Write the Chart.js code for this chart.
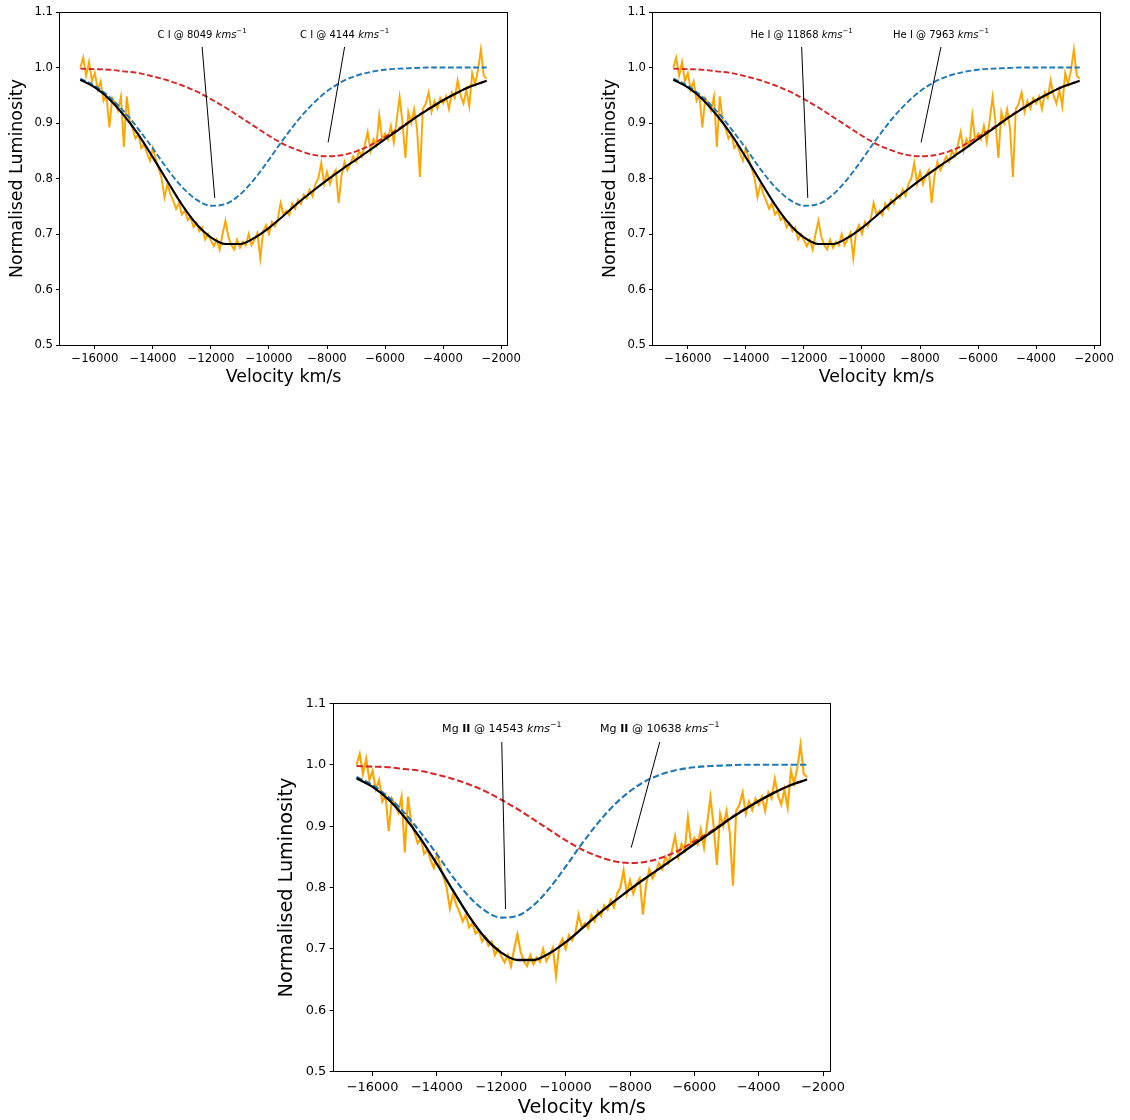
<!DOCTYPE html>
<html>
<head>
<meta charset="utf-8">
<style>
  html, body { margin: 0; padding: 0; background: #fff; }
  body { width: 1130px; height: 1120px; position: relative; overflow: hidden; }
  canvas { position: absolute; }
</style>
</head>
<body>
<canvas id="panelC" width="530" height="400" style="left:0px;top:0px"></canvas>
<canvas id="panelHe" width="530" height="400" style="left:593px;top:0px"></canvas>
<canvas id="panelMg" width="585" height="430" style="left:268px;top:690px"></canvas>
<script src="https://cdn.jsdelivr.net/npm/chart.js@4.4.1/dist/chart.umd.min.js"></script>
<script>
// observed spectrum (velocity km/s, normalised flux)
const specVel = [
  -16500,-16400,-16300,-16200,-16100,-16000,-15900,-15800,-15700,-15600,
  -15500,-15400,-15300,-15200,-15100,-15000,-14900,-14800,-14700,-14600,
  -14500,-14400,-14300,-14200,-14100,-14000,-13900,-13800,-13700,-13600,
  -13500,-13400,-13300,-13200,-13100,-13000,-12900,-12800,-12700,-12600,
  -12500,-12400,-12300,-12200,-12100,-12000,-11900,-11800,-11700,-11600,
  -11500,-11400,-11300,-11200,-11100,-11000,-10900,-10800,-10700,-10600,
  -10500,-10400,-10300,-10200,-10100,-10000,-9900,-9800,-9700,-9600,
  -9500,-9400,-9300,-9200,-9100,-9000,-8900,-8800,-8700,-8600,
  -8500,-8400,-8300,-8200,-8100,-8000,-7900,-7800,-7700,-7600,
  -7500,-7400,-7300,-7200,-7100,-7000,-6900,-6800,-6700,-6600,
  -6500,-6400,-6300,-6200,-6100,-6000,-5900,-5800,-5700,-5600,
  -5500,-5400,-5300,-5200,-5100,-5000,-4900,-4800,-4700,-4600,
  -4500,-4400,-4300,-4200,-4100,-4000,-3900,-3800,-3700,-3600,
  -3500,-3400,-3300,-3200,-3100,-3000,-2900,-2800,-2700,-2600,
  -2500
];
const specLum = [
  1.000,1.018,0.985,1.010,0.975,0.990,0.960,0.975,0.940,0.950,
  0.892,0.945,0.935,0.922,0.948,0.857,0.948,0.905,0.890,0.872,
  0.880,0.855,0.862,0.845,0.832,0.855,0.835,0.818,0.800,0.766,
  0.790,0.772,0.760,0.745,0.756,0.735,0.742,0.725,0.730,0.712,
  0.720,0.705,0.712,0.690,0.700,0.688,0.678,0.690,0.672,0.700,
  0.724,0.695,0.680,0.672,0.690,0.675,0.686,0.679,0.700,0.680,
  0.690,0.702,0.656,0.705,0.716,0.700,0.722,0.714,0.726,0.756,
  0.735,0.742,0.734,0.755,0.745,0.762,0.754,0.771,0.764,0.780,
  0.768,0.790,0.800,0.828,0.790,0.812,0.790,0.806,0.815,0.756,
  0.805,0.830,0.815,0.826,0.840,0.830,0.850,0.840,0.860,0.884,
  0.850,0.871,0.860,0.914,0.870,0.881,0.870,0.895,0.865,0.905,
  0.947,0.900,0.837,0.920,0.900,0.925,0.890,0.803,0.925,0.935,
  0.955,0.920,0.940,0.926,0.945,0.935,0.948,0.925,0.955,0.945,
  0.977,0.950,0.935,0.960,0.930,0.990,0.970,0.995,1.033,0.985,
  0.980
];

// fitted profiles
const fitVel = [
  -16500,-16000,-15500,-15000,-14500,-14000,-13500,-13000,-12500,-12000,
  -11500,-11000,-10500,-10000,-9500,-9000,-8500,-8000,-7500,-7000,
  -6500,-6000,-5500,-5000,-4500,-4000,-3500,-3000,-2500
];
const fastComp = [
  0.980,0.967,0.947,0.921,0.889,0.854,0.817,0.785,0.762,0.751,
  0.754,0.771,0.799,0.834,0.871,0.905,0.934,0.957,0.974,0.985,
  0.992,0.996,0.998,0.999,1.000,1.000,1.000,1.000,1.000
];
const slowComp = [
  0.998,0.997,0.996,0.993,0.990,0.984,0.977,0.968,0.957,0.943,
  0.928,0.911,0.894,0.877,0.862,0.851,0.843,0.840,0.842,0.849,
  0.860,0.875,0.891,0.909,0.926,0.941,0.955,0.967,0.976
];
const totalFit = [
  0.978,0.964,0.943,0.914,0.879,0.838,0.795,0.753,0.718,0.694,
  0.682,0.682,0.693,0.711,0.733,0.756,0.777,0.797,0.816,0.834,
  0.852,0.871,0.889,0.908,0.925,0.941,0.955,0.967,0.976
];

// axis ticks
const velTicks = [-16000, -14000, -12000, -10000, -8000, -6000, -4000, -2000];
const lumTicks = [0.5, 0.6, 0.7, 0.8, 0.9, 1.0, 1.1];

// line identifications per panel
const ions = ['C I', 'He I', 'Mg II'];
const fastShift = [8049, 11868, 14543];
const slowShift = [4144, 7963, 10638];
const fastCentre = -11868, slowCentre = -7963;

const pts = (xs, ys) => xs.map((x, i) => ({x: x, y: ys[i]}));
const minus = v => (v < 0 ? '\u2212' : '') + Math.abs(v);
const FONT = '"DejaVu Sans", "Liberation Sans", sans-serif';

Chart.defaults.color = '#000';
Chart.defaults.font.family = FONT;

function makePanel(id, idx, s, lay) {
  const labelSize = 10 * s;
  const ionParts = ions[idx] === 'Mg II'
    ? [{t: 'Mg ', w: 'normal'}, {t: 'II', w: 'bold'}]
    : [{t: ions[idx], w: 'normal'}];

  function drawLabel(ctx, xs, ys, parts, left, target) {
    const cy = ys.getPixelForValue(1.058);
    let x = xs.getPixelForValue(left);
    const x0 = x;
    ctx.save();
    ctx.fillStyle = '#000';
    ctx.textBaseline = 'middle';
    ctx.textAlign = 'left';
    parts.forEach(p => {
      const size = p.sup ? labelSize * 0.7 : labelSize;
      ctx.font = (p.i ? 'italic ' : '') + (p.w === 'bold' ? 'bold ' : '') + size + 'px ' + FONT;
      ctx.fillText(p.t, x, cy - (p.sup ? labelSize * 0.38 : 0));
      x += ctx.measureText(p.t).width;
    });
    const mid = (x0 + x) / 2;
    ctx.strokeStyle = '#000';
    ctx.lineWidth = 1;
    ctx.beginPath();
    ctx.moveTo(mid, ys.getPixelForValue(1.037));
    ctx.lineTo(xs.getPixelForValue(target.x), ys.getPixelForValue(target.y));
    ctx.stroke();
    ctx.restore();
  }

  const annotate = {
    id: 'lineIds',
    afterDatasetsDraw(chart) {
      const {ctx, scales: {x, y}} = chart;
      const tail = [{t: 'kms', i: true}, {t: '\u22121', sup: true}];
      drawLabel(ctx, x, y, ionParts.concat([{t: ' @ ' + fastShift[idx] + ' '}], tail),
        -13840, {x: fastCentre, y: 0.765});
      drawLabel(ctx, x, y, ionParts.concat([{t: ' @ ' + slowShift[idx] + ' '}], tail),
        -8930, {x: slowCentre, y: 0.865});
    }
  };

  const frame = {
    id: 'frame',
    afterDraw(chart) {
      const {ctx, chartArea: a} = chart;
      ctx.save();
      ctx.strokeStyle = '#000';
      ctx.lineWidth = 1;
      ctx.strokeRect(Math.round(a.left) - 0.5, Math.round(a.top) + 0.5,
        Math.round(a.right - a.left) + 1, Math.round(a.bottom - a.top));
      ctx.restore();
    }
  };

  const tickFont = {size: 11.7 * s, family: FONT};
  const titleFont = {size: 17.4 * s, family: FONT};
  const dash = [5.8 * s, 2.6 * s];

  return new Chart(document.getElementById(id), {
    type: 'line',
    data: {
      datasets: [
        {data: pts(specVel, specLum), borderColor: '#ffa500', borderWidth: 1.9 * s,
          pointRadius: 0, tension: 0, order: 3},
        {data: pts(fitVel, fastComp), borderColor: '#1f77b4', borderWidth: 1.9 * s,
          borderDash: dash, pointRadius: 0, cubicInterpolationMode: 'monotone', order: 1},
        {data: pts(fitVel, slowComp), borderColor: '#d62728', borderWidth: 1.9 * s,
          borderDash: dash, pointRadius: 0, cubicInterpolationMode: 'monotone', order: 2},
        {data: pts(fitVel, totalFit), borderColor: '#000', borderWidth: 2.1 * s,
          pointRadius: 0, cubicInterpolationMode: 'monotone', order: 0}
      ]
    },
    options: {
      responsive: false,
      animation: false,
      events: [],
      layout: {padding: lay.pad},
      plugins: {legend: {display: false}, tooltip: {enabled: false}},
      scales: {
        x: {
          type: 'linear', min: -17200, max: -1800,
          border: {display: false},
          grid: {drawOnChartArea: false, drawTicks: true, tickLength: 4 * s, color: '#000'},
          ticks: {autoSkip: false, maxRotation: 0, padding: 3 * s, font: tickFont,
            callback: v => minus(v)},
          afterBuildTicks: sc => { sc.ticks = velTicks.map(v => ({value: v})); },
          title: {display: true, text: 'Velocity km/s', font: titleFont,
            padding: {top: 0, bottom: lay.xTitlePad}},
          afterFit: sc => { sc.height = lay.xh; }
        },
        y: {
          min: 0.5, max: 1.1,
          border: {display: false},
          grid: {drawOnChartArea: false, drawTicks: true, tickLength: 4 * s, color: '#000'},
          ticks: {padding: 3 * s, font: tickFont, callback: v => v.toFixed(1)},
          afterBuildTicks: sc => { sc.ticks = lumTicks.map(v => ({value: v})); },
          title: {display: true, text: 'Normalised Luminosity', font: titleFont,
            padding: {top: lay.yTitlePad, bottom: 0}},
          afterFit: sc => { sc.width = lay.yw; }
        }
      }
    },
    plugins: [annotate, frame]
  });
}

makePanel('panelC', 0, 1, {pad: {top: 12, right: 23, bottom: 0, left: 0}, xh: 55, yw: 60, xTitlePad: 11.6, yTitlePad: 6.6});
makePanel('panelHe', 1, 1, {pad: {top: 12, right: 23, bottom: 0, left: 0}, xh: 55, yw: 60, xTitlePad: 11.6, yTitlePad: 6.6});
makePanel('panelMg', 2, 1.105, {pad: {top: 13.4, right: 23.5, bottom: 0, left: 0}, xh: 48.3, yw: 66, xTitlePad: 0.5, yTitlePad: 7});
</script>
</body>
</html>
